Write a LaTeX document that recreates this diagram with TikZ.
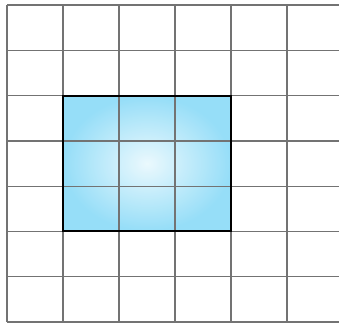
\documentclass[tikz,border=0pt]{standalone}
\definecolor{gridgray}{RGB}{115,115,115}
\definecolor{skyblue}{RGB}{150,222,248}
\definecolor{midblue}{RGB}{205,240,252}
\tikzset{
  gridline/.style={draw=gridgray, line width=1.3pt},
  outline/.style={draw=black, line width=2pt}
}
\begin{document}
\begin{tikzpicture}[x=1pt,y=-1pt]
\useasboundingbox (0,0) rectangle (339,326);
\fill[white] (0,0) rectangle (339,326);
% shaded region
\shade[inner color=midblue, outer color=skyblue] (63,96) rectangle (231,231);
\shade[inner color=white, outer color=skyblue, opacity=0.6] (63,96) rectangle (231,231);
% grid
\foreach \x in {7,63,119,175,231,287} {
  \draw[gridline] (\x,5) -- (\x,322);
}
\foreach \i in {0,...,7} {
  \draw[gridline] (7,5+45.29*\i) -- (339,5+45.29*\i);
}
% outline
\draw[outline] (63,96) rectangle (231,231);
\end{tikzpicture}
\end{document}
